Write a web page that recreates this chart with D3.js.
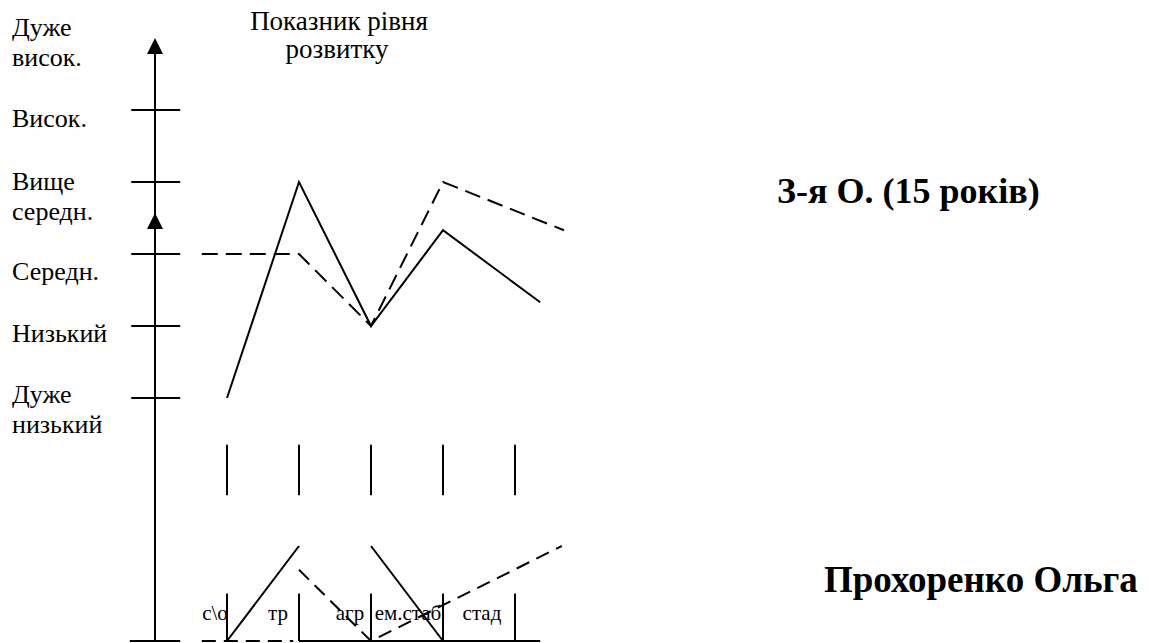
<!DOCTYPE html>
<html>
<head>
<meta charset="utf-8">
<script src="https://cdn.jsdelivr.net/npm/d3@7"></script>
<style>
  html, body { margin: 0; padding: 0; background: #fff; }
  svg { display: block; }
  text { font-family: "Liberation Serif", "Times New Roman", serif; fill: #000; }
</style>
</head>
<body>
<div id="chart"></div>
<script>
(function() {
    'use strict';

    // Рівні (знизу вгору), значення 1..6
    var levelValues = [1, 2, 3, 4, 5, 6];
    var levelLabels = [
        ['Дуже', 'низький'],
        ['Низький'],
        ['Середн.'],
        ['Вище', 'середн.'],
        ['Висок.'],
        ['Дуже', 'висок.']
    ];
    var categories = ['с\\о', 'тр', 'агр', 'ем.стаб', 'стад'];

    // верхня частина: [індекс категорії, рівень]
    var solidTop = [[0, 1], [1, 4], [2, 2], [3, 3.33], [4.35, 2.33]];
    var dashedTop = [[-0.35, 3], [1, 3], [2, 2], [3, 4], [4.68, 3.33]];

    // нижня частина: [індекс категорії, значення 0..1]
    var solidLow = [
        [[0, 0], [1, 1]],
        [[2, 1], [3, 0]],
        [[1, 0], [4.35, 0]]
    ];
    var dashedLow = [
        [[-0.35, 0], [0.92, 0]],
        [[1, 0.75], [2, 0], [4.65, 1]]
    ];

    // розміщення підписів (як у документі)
    var levelLabelDy = [5, 16, 26, 8, 17, -2];
    var catLabelDx = [-12, -21, -21, -35, -33];

    var width = 1149, height = 643;

    var x = d3.scaleLinear().domain([-1, 4]).range([155, 515]);
    var y = d3.scaleLinear().domain([1, 6]).range([398, 38]);
    var yLow = d3.scaleLinear().domain([0, 1]).range([641, 546]);

    var svg = d3.select('#chart').append('svg')
        .attr('width', width)
        .attr('height', height);

    var line = d3.line()
        .x(function(d) { return x(d[0]); })
        .y(function(d) { return y(d[1]); });
    var lineLow = d3.line()
        .x(function(d) { return x(d[0]); })
        .y(function(d) { return yLow(d[1]); });

    var stroke = function(sel) {
        return sel.attr('fill', 'none').attr('stroke', '#000').attr('stroke-width', 2);
    };

    // вертикальна вісь
    stroke(svg.append('line')
        .attr('x1', x(-1)).attr('x2', x(-1))
        .attr('y1', yLow(0)).attr('y2', y(6) + 10));

    // стрілки
    [6, 3.57].forEach(function(v) {
        var tipY = y(v), cx = x(-1);
        svg.append('path')
            .attr('d', 'M' + cx + ',' + tipY + 'L' + (cx - 8) + ',' + (tipY + 16) + 'L' + (cx + 8) + ',' + (tipY + 16) + 'Z')
            .attr('fill', '#000');
    });

    // горизонтальні риски рівнів
    svg.selectAll('.ytick')
        .data(levelValues.filter(function(v) { return v < 6; }))
        .join('line')
        .attr('class', 'ytick')
        .attr('x1', x(-1.33)).attr('x2', x(-0.65))
        .attr('y1', function(v) { return y(v); })
        .attr('y2', function(v) { return y(v); })
        .call(stroke);

    // підписи рівнів
    svg.selectAll('.ylabel')
        .data(levelValues)
        .join('text')
        .attr('class', 'ylabel')
        .attr('x', 12)
        .attr('y', function(v, i) { return y(v) + levelLabelDy[i]; })
        .style('font-size', '26px')
        .each(function(v, i) {
            var t = d3.select(this);
            levelLabels[i].forEach(function(s, k) {
                t.append('tspan').attr('x', 12).attr('dy', k ? 30 : 0).text(s);
            });
        });

    // заголовок
    var title = svg.append('text')
        .attr('x', 339).attr('y', 30)
        .attr('text-anchor', 'middle')
        .style('font-size', '27px');
    title.append('tspan').attr('x', 339).text('Показник рівня');
    title.append('tspan').attr('x', 337).attr('dy', 28).text('розвитку');

    // вертикальні риски категорій (верхні)
    svg.selectAll('.xtick')
        .data(categories)
        .join('line')
        .attr('class', 'xtick')
        .attr('x1', function(d, i) { return x(i); })
        .attr('x2', function(d, i) { return x(i); })
        .attr('y1', y(0.35)).attr('y2', y(-0.35))
        .call(stroke);

    // вертикальні риски категорій (нижні)
    svg.selectAll('.xtick2')
        .data(categories)
        .join('line')
        .attr('class', 'xtick2')
        .attr('x1', function(d, i) { return x(i); })
        .attr('x2', function(d, i) { return x(i); })
        .attr('y1', yLow(0.5)).attr('y2', yLow(0))
        .call(stroke);

    // нижня риска на осі
    stroke(svg.append('line')
        .attr('x1', x(-1.35)).attr('x2', x(-0.65))
        .attr('y1', yLow(0)).attr('y2', yLow(0)));

    // підписи категорій
    svg.selectAll('.xlabel')
        .data(categories)
        .join('text')
        .attr('class', 'xlabel')
        .attr('x', function(d, i) { return x(i) + catLabelDx[i]; })
        .attr('y', 620)
        .attr('text-anchor', 'middle')
        .style('font-size', '21px')
        .text(function(d) { return d; });

    // лінії верхньої частини
    stroke(svg.append('path').attr('d', line(solidTop)));
    stroke(svg.append('path').attr('d', line(dashedTop)))
        .attr('stroke-dasharray', '16,8');

    // лінії нижньої частини
    solidLow.forEach(function(seg) {
        stroke(svg.append('path').attr('d', lineLow(seg)));
    });
    dashedLow.forEach(function(seg) {
        stroke(svg.append('path').attr('d', lineLow(seg)))
            .attr('stroke-dasharray', '14,8');
    });

    // підписи праворуч
    svg.append('text')
        .attr('x', 777).attr('y', 203)
        .style('font-size', '36px').style('font-weight', 'bold')
        .text('З-я О. (15 років)');
    svg.append('text')
        .attr('x', 824).attr('y', 592)
        .style('font-size', '37px').style('font-weight', 'bold')
        .text('Прохоренко Ольга');
})();
</script>
</body>
</html>
